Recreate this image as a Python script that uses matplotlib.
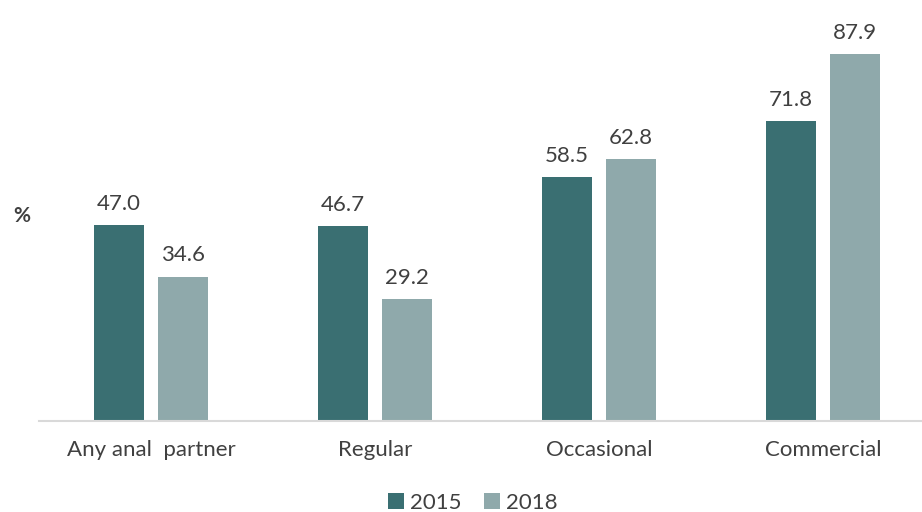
import matplotlib
matplotlib.use("Agg")
import matplotlib.pyplot as plt
import numpy as np

categories = ["Any anal  partner", "Regular", "Occasional", "Commercial"]
series_names = ["2015", "2018"]
values_2015 = [47.0, 46.7, 58.5, 71.8]
values_2018 = [34.6, 29.2, 62.8, 87.9]

plt.rcParams['font.family'] = ['Lato', 'DejaVu Sans']

W, H = 922, 512
fig = plt.figure(figsize=(W/100, H/100), dpi=100)
left = 39 / W
bottom = 91 / H
width = 896 / W
height = 417.5 / H
ax = fig.add_axes([left, bottom, width, height])

x = np.arange(len(categories))
bw = 0.223
c1 = "#3A6F72"
c2 = "#8FA9AB"
b1 = ax.bar(x - 0.143, values_2015, bw, color=c1, label=series_names[0])
b2 = ax.bar(x + 0.143, values_2018, bw, color=c2, label=series_names[1])

for bars, vals in ((b1, values_2015), (b2, values_2018)):
    for r, v in zip(bars, vals):
        ax.annotate(f"{v:.1f}", (r.get_x() + r.get_width()/2, v),
                    xytext=(0, 8), textcoords="offset points",
                    ha="center", va="bottom", fontsize=16, color="#404040")

ax.set_xlim(-0.5, 3.5)
ax.set_ylim(0, 100)
ax.set_xticks(x)
ax.set_xticklabels(categories, fontsize=16, color="#404040")
ax.tick_params(axis='x', length=0, pad=14)
ax.set_yticks([])
for s in ["top", "right", "left"]:
    ax.spines[s].set_visible(False)
ax.spines["bottom"].set_color("#D9D9D9")
ax.spines["bottom"].set_linewidth(1.5)

fig.text(22/W, 1 - 216/H, "%", fontsize=15, fontweight="bold", color="#404040",
         ha="center", va="center")

leg = fig.legend(handles=[b1, b2], labels=series_names, loc="center",
                 bbox_to_anchor=(473/W, 1 - 503/H), ncol=2, frameon=False,
                 fontsize=16, handlelength=0.7, handleheight=0.7,
                 handletextpad=0.3, columnspacing=1.0, labelcolor="#404040",
                 borderpad=0.2)

fig.savefig("out.png", dpi=100)
